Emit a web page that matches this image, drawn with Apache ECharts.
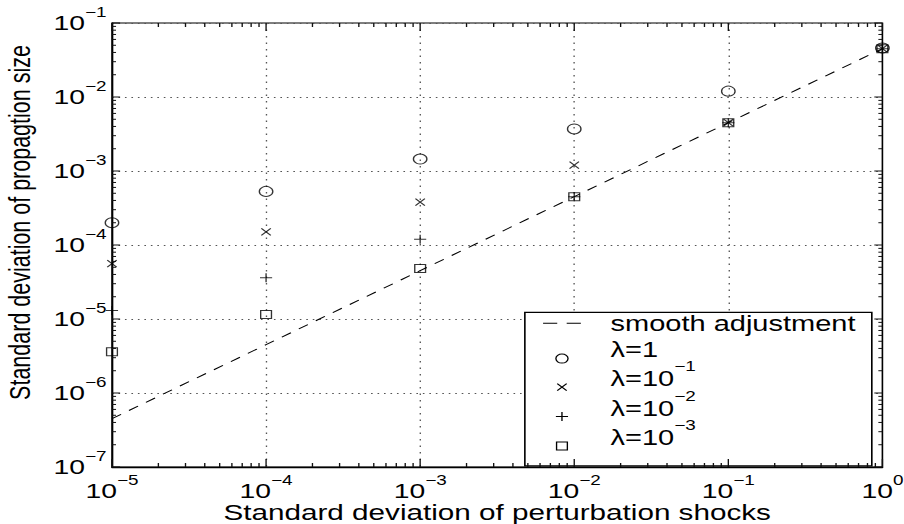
<!DOCTYPE html>
<html>
<head>
<meta charset="utf-8">
<script src="https://cdn.jsdelivr.net/npm/echarts@6/dist/echarts.min.js"></script>
<style>
html, body { margin: 0; padding: 0; background: #fff; overflow: hidden; }
#wrap { width: 904px; height: 524px; overflow: hidden; }
#chart { width: 670px; height: 524px; transform: scaleX(1.34925); transform-origin: 0 0; }
</style>
</head>
<body>
<div id="wrap"><div id="chart"></div></div>
<script>
// ---- data ----
const xValues = [1e-5, 1e-4, 1e-3, 1e-2, 1e-1, 1];
const smoothAdjustment = [4.5e-7, 4.5e-6, 4.5e-5, 4.5e-4, 4.5e-3, 4.5e-2];
const lambda1 = [2.0e-4, 5.3e-4, 1.45e-3, 3.7e-3, 1.2e-2, 4.6e-2];
const lambdaE1 = [5.6e-5, 1.5e-4, 3.8e-4, 1.2e-3, 4.5e-3, 4.5e-2];
const lambdaE2 = [1.3e-5, 3.6e-5, 1.2e-4, 4.5e-4, 4.5e-3, 4.5e-2];
const lambdaE3 = [3.6e-6, 1.15e-5, 4.8e-5, 4.5e-4, 4.5e-3, 4.5e-2];
const seriesNames = ['smooth adjustment', 'λ=1', 'λ=10^-1', 'λ=10^-2', 'λ=10^-3'];
const xExponents = [-5, -4, -3, -2, -1, 0];
const yExponents = [-7, -6, -5, -4, -3, -2, -1];
const xTitle = 'Standard deviation of perturbation shocks';
const yTitle = 'Standard deviation of propagtion size';

// ---- helpers ----
const FONT = '"Liberation Sans", Arial, Helvetica, sans-serif';
const BLACK = '#000';
function powLabel(v) {
  const e = Math.round(Math.log10(v));
  return '{b|10}{s|' + String(e).replace('-', '\u2212') + '}';
}
const labelRich = {
  b: { fontFamily: FONT, fontSize: 21, lineHeight: 28, verticalAlign: 'bottom', color: BLACK },
  s: { fontFamily: FONT, fontSize: 14, verticalAlign: 'top', color: BLACK }
};
function pairs(ys) { return xValues.map((x, i) => [x, ys[i]]); }

const xMin = Math.pow(10, xExponents[0]), xMax = Math.pow(10, xExponents[xExponents.length - 1]);
const yMin = Math.pow(10, yExponents[0]), yMax = Math.pow(10, yExponents[yExponents.length - 1]);

// frame tick rows: [x, y, code]; code 0 x-minor, 1 x-major, 2 y-minor, 3 y-major
const tickRows = [];
xExponents.forEach((e, i) => {
  tickRows.push([Math.pow(10, e), yMin, 1]);
  if (i < xExponents.length - 1) for (let k = 2; k <= 9; k++) tickRows.push([k * Math.pow(10, e), yMin, 0]);
});
yExponents.forEach((e, i) => {
  tickRows.push([xMin, Math.pow(10, e), 3]);
  if (i < yExponents.length - 1) for (let k = 2; k <= 9; k++) tickRows.push([xMin, k * Math.pow(10, e), 2]);
});
const TICK_LEN = [4, 8, 3, 6];

function renderTick(params, api) {
  const xv = api.value(0), yv = api.value(1), code = api.value(2);
  const len = TICK_LEN[code];
  const st = { stroke: '#111', lineWidth: 1 };
  if (code < 2) {
    const b = api.coord([xv, yMin]), t = api.coord([xv, yMax]);
    return { type: 'group', children: [
      { type: 'line', shape: { x1: b[0], y1: b[1], x2: b[0], y2: b[1] - len }, style: st },
      { type: 'line', shape: { x1: t[0], y1: t[1], x2: t[0], y2: t[1] + len }, style: st }
    ] };
  }
  const l = api.coord([xMin, yv]), r = api.coord([xMax, yv]);
  return { type: 'group', children: [
    { type: 'line', shape: { x1: l[0], y1: l[1], x2: l[0] + len, y2: l[1] }, style: st },
    { type: 'line', shape: { x1: r[0], y1: r[1], x2: r[0] - len, y2: r[1] }, style: st }
  ] };
}

function logAxis(isX) {
  return {
    type: 'log', logBase: 10,
    min: isX ? xMin : yMin, max: isX ? xMax : yMax,
    position: isX ? 'bottom' : 'left',
    splitNumber: isX ? 5 : 6,
    axisLine: { show: true, onZero: false, lineStyle: { color: BLACK, width: isX ? 1.3 : 1 } },
    axisTick: { show: false },
    axisLabel: {
      show: true, formatter: powLabel, rich: labelRich,
      showMinLabel: true, showMaxLabel: true,
      margin: isX ? 6 : 4,
      padding: isX ? 0 : [0, 0, 8, 0]
    },
    splitLine: {
      show: true, showMinLine: false, showMaxLine: false,
      lineStyle: { color: '#555', width: 1, type: isX ? [1.5, 5] : [1.2, 3.6] }
    },
    minorTick: { show: false }, minorSplitLine: { show: false }
  };
}

const xMain = logAxis(true);
xMain.name = xTitle;
xMain.nameLocation = 'middle';
xMain.nameGap = 34;
xMain.nameMoveOverlap = false;
xMain.nameTextStyle = { fontFamily: FONT, fontSize: 22, color: BLACK };

const yMain = logAxis(false);
yMain.name = yTitle;
yMain.nameLocation = 'middle';
yMain.nameGap = 57;
yMain.nameRotate = 90;
yMain.nameMoveOverlap = false;
yMain.nameTextStyle = { fontFamily: FONT, fontSize: 21.5, color: BLACK, padding: [0, 0, 0, 45] };

const markerStyle = { color: 'transparent', borderColor: BLACK, borderWidth: 1 };

// legend icons (visible glyph offset downward inside the icon box)
const legendIcons = [
  'path://M0,-1M0,0L10.5,0M17.5,0L28,0M0,1',
  'path://M5,-29.72M5,10.28M10,5A5,5,0,1,1,0,5A5,5,0,1,1,10,5Z',
  'path://M5,-38.21M5,13.21M0,0L10,10M10,0L0,10',
  'path://M5,-28.61M5,11.39M5,0L5,10M0,5L10,5',
  'path://M5,-32.81M5,12.19M0,0L10,0L10,10L0,10Z'
];
const legendIconStyle = { color: 'transparent', borderColor: BLACK, borderWidth: 1, borderType: 'solid', opacity: 1 };

const option = {
  animation: false,
  backgroundColor: '#fff',
  textStyle: { fontFamily: FONT, color: BLACK },
  grid: { left: 83, right: 16, top: 23, bottom: 57, containLabel: false, outerBoundsMode: 'none',
          show: true, borderColor: BLACK, borderWidth: 1.2, backgroundColor: 'transparent' },
  xAxis: [xMain],
  yAxis: [yMain],
  legend: {
    show: true, orient: 'vertical', left: 389, top: 312.35,
    padding: [0, 12, 13.6, 13], itemGap: -7.5,
    itemWidth: 28, itemHeight: 36, selectedMode: false,
    backgroundColor: '#fff', borderColor: BLACK, borderWidth: 1.2,
    itemStyle: { borderWidth: 1 },
    data: seriesNames.map((n, i) => ({ name: n, icon: legendIcons[i], itemStyle: legendIconStyle })),
    formatter: function (name) {
      const m = name.match(/^(.*)\^(.*)$/);
      if (m) return '{g| }{t|' + m[1] + '}{s|' + m[2].replace('-', '\u2212') + '}';
      if (name === seriesNames[0]) return '{g| }{u|' + name + '}';
      return '{g| }{t|' + name + '}';
    },
    textStyle: {
      fontFamily: FONT, fontSize: 21.5, color: BLACK,
      rich: {
        g: { width: 17, fontSize: 10 },
        u: { fontFamily: FONT, fontSize: 21.5, lineHeight: 22, verticalAlign: 'bottom', color: BLACK },
        t: { fontFamily: FONT, fontSize: 21.5, lineHeight: 30, verticalAlign: 'bottom', color: BLACK },
        s: { fontFamily: FONT, fontSize: 14, verticalAlign: 'top', color: BLACK }
      }
    }
  },
  series: [
    { type: 'line', name: seriesNames[0], data: pairs(smoothAdjustment), symbol: 'none',
      lineStyle: { color: BLACK, width: 1, type: [8, 7] }, itemStyle: { color: BLACK },
      xAxisIndex: 0, yAxisIndex: 0, z: 2, silent: true },
    { type: 'scatter', name: seriesNames[1], data: pairs(lambda1), symbol: 'circle', symbolSize: 10,
      itemStyle: markerStyle, clip: false, xAxisIndex: 0, yAxisIndex: 0, z: 3 },
    { type: 'scatter', name: seriesNames[2], data: pairs(lambdaE1), symbol: 'path://M0,0L10,10M10,0L0,10', symbolSize: 7,
      itemStyle: markerStyle, clip: false, xAxisIndex: 0, yAxisIndex: 0, z: 3 },
    { type: 'scatter', name: seriesNames[3], data: pairs(lambdaE2), symbol: 'path://M5,0L5,10M0,5L10,5', symbolSize: 9,
      itemStyle: markerStyle, clip: false, xAxisIndex: 0, yAxisIndex: 0, z: 3 },
    { type: 'scatter', name: seriesNames[4], data: pairs(lambdaE3), symbol: 'rect', symbolSize: 8,
      itemStyle: markerStyle, clip: false, xAxisIndex: 0, yAxisIndex: 0, z: 3 },
    { type: 'custom', name: 'frame ticks', data: tickRows, renderItem: renderTick,
      clip: false, silent: true, xAxisIndex: 0, yAxisIndex: 0, z: 4, encode: { x: 0, y: 1 } }
  ]
};

const chart = echarts.init(document.getElementById('chart'), null, { renderer: 'svg', width: 670, height: 524 });
chart.setOption(option);
</script>
</body>
</html>
